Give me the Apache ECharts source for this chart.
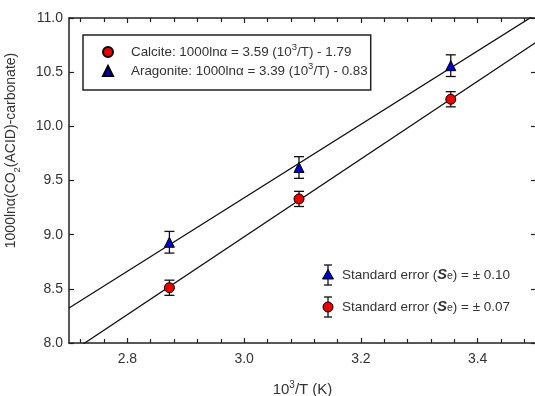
<!DOCTYPE html>
<html><head><meta charset="utf-8">
<script src="https://cdn.jsdelivr.net/npm/echarts@6/dist/echarts.min.js"></script>
<style>html,body{margin:0;padding:0;background:#fff}#c{width:535px;height:396px}</style>
</head><body><div id="c"></div><script>
// ---- data ----
const xValues = [2.872, 3.094, 3.354];
const calciteY = [8.51, 9.33, 10.25];
const aragoniteY = [8.93, 9.62, 10.56];
const calciteErr = 0.07;
const aragoniteErr = 0.10;
const calciteFitX = [2.7, 3.5];
const calciteFitY = [7.903, 10.775];
const aragoniteFitX = [2.7, 3.5];
const aragoniteFitY = [8.323, 11.035];
const xMajorTicks = [2.8, 3.0, 3.2, 3.4];
const xMinorTicks = [2.72, 2.76, 2.84, 2.88, 2.92, 2.96, 3.04, 3.08, 3.12, 3.16, 3.24, 3.28, 3.32, 3.36, 3.44, 3.48];
const seriesNames = ['Calcite', 'Aragonite'];
const seriesIcons = ['circle', 'triangle'];
const legendTexts = ['Calcite: 1000ln\u03b1 = 3.59 (10{sup|3}/T) - 1.79', 'Aragonite: 1000ln\u03b1 = 3.39 (10{sup|3}/T) - 0.83'];
const errTexts = ['0.10', '0.07'];

const FONT = 'Liberation Sans, Arial, Helvetica, sans-serif';
const RED = '#ee0000', BLUE = '#0000cc', AX = '#222', TXT = '#333';

const chart = echarts.init(document.getElementById('c'), null, {renderer: 'canvas'});

function errBar() {
  return function (params, api) {
    const x = api.value(0), lo = api.value(1), hi = api.value(2);
    const p1 = api.coord([x, lo]), p2 = api.coord([x, hi]);
    const w = 5;
    const st = {stroke: '#111', lineWidth: 1.3};
    return {type: 'group', children: [
      {type: 'line', shape: {x1: p1[0], y1: p1[1], x2: p2[0], y2: p2[1]}, style: st},
      {type: 'line', shape: {x1: p1[0] - w, y1: p1[1], x2: p1[0] + w, y2: p1[1]}, style: st},
      {type: 'line', shape: {x1: p2[0] - w, y1: p2[1], x2: p2[0] + w, y2: p2[1]}, style: st}
    ]};
  };
}

const xBase = {type: 'value', min: 2.7, max: 3.5, gridIndex: 0, splitLine: {show: false}};

function legend2Row(cy, isTri, color, val) {
  const cx = 328, h = 10, w = 4;
  const st = {stroke: '#111', lineWidth: 1.3};
  const sym = isTri
    ? {type: 'polygon', shape: {points: [[cx, cy - 5.5], [cx + 5.5, cy + 4], [cx - 5.5, cy + 4]]}, style: {fill: color, stroke: '#000', lineWidth: 1}}
    : {type: 'circle', shape: {cx: cx, cy: cy, r: 5}, style: {fill: color, stroke: '#000', lineWidth: 1}};
  return [
    {type: 'line', shape: {x1: cx, y1: cy - h, x2: cx, y2: cy + h}, style: st},
    {type: 'line', shape: {x1: cx - w, y1: cy - h, x2: cx + w, y2: cy - h}, style: st},
    {type: 'line', shape: {x1: cx - w, y1: cy + h, x2: cx + w, y2: cy + h}, style: st},
    sym,
    {type: 'text', x: 342, y: cy, style: {
      text: 'Standard error ({s|S}{e|e}) = \u00b1 ' + val,
      fontFamily: FONT, fontSize: 13.5, fill: TXT, verticalAlign: 'middle',
      rich: {s: {fontSize: 14.5, fontWeight: 'bold', fontStyle: 'italic', fontFamily: FONT, fill: TXT},
             e: {fontSize: 10.5, fontFamily: FONT, fill: TXT, padding: [2, 0, 0, 0]}}
    }}
  ];
}

const option = {
  animation: false,
  backgroundColor: '#fff',
  textStyle: {fontFamily: FONT},
  grid: {left: 69, right: -1, top: 18, bottom: 53, containLabel: false, outerBoundsMode: 'none'},
  xAxis: [
    Object.assign({}, xBase, {
      position: 'bottom',
      name: '10{sup|3}/T (K)', nameLocation: 'middle', nameGap: 37,
      nameTextStyle: {fontSize: 15, color: TXT, fontFamily: FONT, lineHeight: 16,
        rich: {sup: {fontSize: 10, verticalAlign: 'top', lineHeight: 20, fontFamily: FONT, color: TXT}}},
      axisLine: {lineStyle: {color: AX, width: 1.5}},
      axisTick: {inside: true, length: 5, customValues: xMajorTicks, lineStyle: {color: AX, width: 1.2}},
      axisLabel: {customValues: xMajorTicks, fontSize: 14, color: TXT, margin: 9, fontFamily: FONT,
        formatter: v => v.toFixed(1)}
    }),
    Object.assign({}, xBase, {
      position: 'bottom', axisLine: {show: false},
      axisTick: {inside: true, length: 4, customValues: xMinorTicks, lineStyle: {color: AX, width: 1.2}},
      axisLabel: {show: false}
    }),
    Object.assign({}, xBase, {
      position: 'top',
      axisLine: {lineStyle: {color: AX, width: 1.5}},
      axisTick: {inside: true, length: 5, customValues: xMajorTicks, lineStyle: {color: AX, width: 1.2}},
      axisLabel: {show: false}
    }),
    Object.assign({}, xBase, {
      position: 'top', axisLine: {show: false},
      axisTick: {inside: true, length: 4, customValues: xMinorTicks, lineStyle: {color: AX, width: 1.2}},
      axisLabel: {show: false}
    })
  ],
  yAxis: [
    {type: 'value', min: 8, max: 11, interval: 0.5, position: 'left',
      splitLine: {show: false},
      name: '1000ln\u03b1(CO{sub|2}(ACID)-carbonate)', nameLocation: 'middle', nameGap: 47,
      nameTextStyle: {fontSize: 14, color: TXT, fontFamily: FONT, lineHeight: 16, padding: [0, 0, 0, 60],
        rich: {sub: {fontSize: 9.5, verticalAlign: 'bottom', lineHeight: 21, fontFamily: FONT, color: TXT}}},
      axisLine: {lineStyle: {color: AX, width: 1.5}},
      axisTick: {inside: true, length: 5, lineStyle: {color: AX, width: 1.2}},
      axisLabel: {fontSize: 14, color: TXT, margin: 6, fontFamily: FONT, formatter: v => v.toFixed(1)}
    },
    {type: 'value', min: 8, max: 11, interval: 0.5, position: 'right',
      splitLine: {show: false},
      axisLine: {lineStyle: {color: AX, width: 1.5}},
      axisTick: {inside: true, length: 5, lineStyle: {color: AX, width: 1.2}},
      axisLabel: {show: false}
    }
  ],
  legend: {
    data: seriesNames.map((n, i) => ({name: n, icon: seriesIcons[i]})),
    orient: 'vertical', left: 83, top: 35,
    padding: [7, 3, 9, 19], itemGap: -1, itemWidth: 10, itemHeight: 10,
    borderColor: AX, borderWidth: 1.5, backgroundColor: '#fff',
    formatter: name => legendTexts[seriesNames.indexOf(name)],
    textStyle: {fontSize: 13.4, color: TXT, fontFamily: FONT, lineHeight: 16, padding: [0, 0, 0, 13],
      rich: {sup: {fontSize: 9.5, verticalAlign: 'top', lineHeight: 20, fontFamily: FONT, color: TXT}}},
    selectedMode: false
  },
  graphic: [{type: 'group', children: []
    .concat(legend2Row(275, true, BLUE, errTexts[0]))
    .concat(legend2Row(307, false, RED, errTexts[1]))}],
  series: [
    {name: 'Calcite fit', type: 'line', symbol: 'none', silent: true, z: 2,
      data: calciteFitX.map((x, i) => [x, calciteFitY[i]]),
      lineStyle: {color: '#111', width: 1.3}},
    {name: 'Aragonite fit', type: 'line', symbol: 'none', silent: true, z: 2,
      data: aragoniteFitX.map((x, i) => [x, aragoniteFitY[i]]),
      lineStyle: {color: '#111', width: 1.3}},
    {name: 'Calcite err', type: 'custom', z: 3, renderItem: errBar(),
      data: xValues.map((x, i) => [x, calciteY[i] - calciteErr, calciteY[i] + calciteErr])},
    {name: 'Aragonite err', type: 'custom', z: 3, renderItem: errBar(),
      data: xValues.map((x, i) => [x, aragoniteY[i] - aragoniteErr, aragoniteY[i] + aragoniteErr])},
    {name: 'Calcite', type: 'scatter', symbol: 'circle', symbolSize: 10, z: 5,
      data: xValues.map((x, i) => [x, calciteY[i]]),
      itemStyle: {color: RED, borderColor: '#000', borderWidth: 1, opacity: 1}},
    {name: 'Aragonite', type: 'scatter', symbol: 'triangle', symbolSize: 10, z: 5,
      data: xValues.map((x, i) => [x, aragoniteY[i]]),
      itemStyle: {color: BLUE, borderColor: '#000', borderWidth: 1, opacity: 1}}
  ]
};
chart.setOption(option);
</script></body></html>
